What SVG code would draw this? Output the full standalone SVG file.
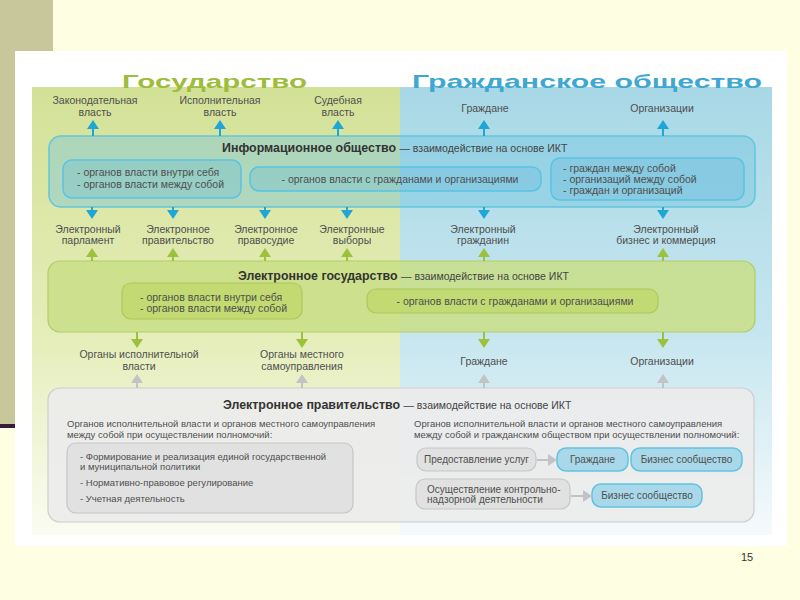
<svg xmlns="http://www.w3.org/2000/svg" width="800" height="600" viewBox="0 0 800 600">
<defs>
<linearGradient id="gGreen" x1="0" y1="0" x2="0" y2="1">
<stop offset="0" stop-color="#d3e197"/>
<stop offset="0.55" stop-color="#e5edb9"/>
<stop offset="1" stop-color="#fbfcf2"/>
</linearGradient>
<linearGradient id="gBlue" x1="0" y1="0" x2="0" y2="1">
<stop offset="0" stop-color="#a8d8e6"/>
<stop offset="0.55" stop-color="#c6e6ef"/>
<stop offset="1" stop-color="#f5fafc"/>
</linearGradient>
<marker id="mBlue" markerUnits="userSpaceOnUse" markerWidth="9" markerHeight="12" refX="0" refY="6" orient="auto"><path d="M0,0 L9,6 L0,12 z" fill="#1ea7d6"/></marker>
<marker id="mGreen" markerUnits="userSpaceOnUse" markerWidth="9" markerHeight="12" refX="0" refY="6" orient="auto"><path d="M0,0 L9,6 L0,12 z" fill="#9cc13c"/></marker>
<marker id="mGray" markerUnits="userSpaceOnUse" markerWidth="9" markerHeight="12" refX="0" refY="6" orient="auto"><path d="M0,0 L9,6 L0,12 z" fill="#c3c3c6"/></marker>
<style>
text{font-family:"Liberation Sans",Arial,sans-serif;fill:#4f4f4f}
.lbl{font-size:10.5px;text-anchor:middle}
.sm{font-size:10.5px}
.gs{font-size:9.5px}
.gb{font-size:10px}
.ttl{font-size:12.4px;font-weight:bold;fill:#333}
.sub{font-size:10.5px;fill:#444;font-weight:normal}
.info{fill:#72c4e0;fill-opacity:0.42;stroke:#62c6dc;stroke-width:1.5}
.infoIn{fill:#5cb8dc;fill-opacity:0.28;stroke:#58c4e2;stroke-width:1.5}
.es{fill:#c9de86;fill-opacity:0.85;stroke:#b3cd68;stroke-width:1.2}
.esIn{fill:#bfd86a;fill-opacity:0.8;stroke:#acc85a;stroke-width:1.2}
.eg{fill:#ececeb;fill-opacity:0.92;stroke:#cdcdcd;stroke-width:1.2}
.egIn{fill:#e1e1e1;stroke:#c6c6c6;stroke-width:1.2}
.bl{fill:#a9d8ea;stroke:#62c3de;stroke-width:1.5}
.cBlue{stroke:#1ea7d6;stroke-width:2;fill:none;marker-end:url(#mBlue)}
.cGreen{stroke:#9cc13c;stroke-width:2;fill:none;marker-end:url(#mGreen)}
.cGray{stroke:#c3c3c6;stroke-width:2;fill:none;marker-end:url(#mGray)}
</style>
</defs>

<rect x="0" y="0" width="800" height="600" fill="#fefee2"/>
<rect x="0" y="0" width="53" height="425" fill="#c8c79c"/>
<rect x="0" y="424" width="15" height="4" fill="#3b1a3c"/>
<rect x="15" y="51" width="772" height="495" fill="#ffffff"/>

<g id="panels">
<rect x="32" y="87" width="368" height="448" fill="url(#gGreen)"/>
<rect x="400" y="87" width="372" height="448" fill="url(#gBlue)"/>
<text x="122" y="88" font-size="18.5" font-weight="bold" style="fill:#9dbd3b" textLength="185" lengthAdjust="spacingAndGlyphs">Государство</text>
<text x="412" y="88" font-size="18.5" font-weight="bold" style="fill:#3ea8d2" textLength="350" lengthAdjust="spacingAndGlyphs">Гражданское общество</text>
</g>

<g id="top-labels">
<text class="lbl" x="95" y="104">Законодательная</text>
<text class="lbl" x="95" y="116">власть</text>
<text class="lbl" x="220" y="104">Исполнительная</text>
<text class="lbl" x="220" y="116">власть</text>
<text class="lbl" x="338" y="104">Судебная</text>
<text class="lbl" x="338" y="116">власть</text>
<text class="lbl" x="485" y="112">Граждане</text>
<text class="lbl" x="662" y="112">Организации</text>
</g>

<g id="info-society">
<rect class="info" x="49" y="136" width="706" height="71" rx="12"/>
<text class="ttl" x="222" y="152">Информационное общество <tspan class="sub">— взаимодействие на основе ИКТ</tspan></text>
<rect class="infoIn" x="63" y="160" width="178" height="38" rx="9"/>
<text class="sm" x="77" y="176">- органов власти внутри себя</text>
<text class="sm" x="77" y="187.5">- органов власти между собой</text>
<rect class="infoIn" x="250" y="167" width="291" height="24" rx="9"/>
<text class="sm" x="400" y="182.5" text-anchor="middle">- органов власти с гражданами и организациями</text>
<rect class="infoIn" x="551" y="158" width="193" height="42" rx="9"/>
<text class="sm" x="563" y="171.5">- граждан  между собой</text>
<text class="sm" x="563" y="182.5">- организаций между собой</text>
<text class="sm" x="563" y="193.5">- граждан  и организаций</text>
</g>

<g id="e-labels">
<text class="lbl" x="88" y="232.5">Электронный</text>
<text class="lbl" x="88" y="243.5">парламент</text>
<text class="lbl" x="178" y="232.5">Электронное</text>
<text class="lbl" x="178" y="243.5">правительство</text>
<text class="lbl" x="266" y="232.5">Электронное</text>
<text class="lbl" x="266" y="243.5">правосудие</text>
<text class="lbl" x="352" y="232.5">Электронные</text>
<text class="lbl" x="352" y="243.5">выборы</text>
<text class="lbl" x="483" y="232.5">Электронный</text>
<text class="lbl" x="483" y="243.5">гражданин</text>
<text class="lbl" x="666" y="232.5">Электронный</text>
<text class="lbl" x="666" y="243.5">бизнес и коммерция</text>
</g>

<g id="e-state">
<rect class="es" x="48" y="261" width="707" height="71" rx="12"/>
<text class="ttl" x="238" y="280">Электронное государство <tspan class="sub">— взаимодействие на основе ИКТ</tspan></text>
<rect class="esIn" x="122" y="283" width="180" height="36" rx="9"/>
<text class="sm" x="140" y="300.5">- органов власти внутри себя</text>
<text class="sm" x="140" y="311.5">- органов власти между собой</text>
<rect class="esIn" x="367" y="289" width="291" height="24" rx="9"/>
<text class="sm" x="515" y="305" text-anchor="middle">- органов власти с гражданами и организациями</text>
</g>

<g id="gov-labels">
<text class="lbl" x="139" y="357.5">Органы исполнительной</text>
<text class="lbl" x="139" y="369.5">власти</text>
<text class="lbl" x="302" y="357.5">Органы местного</text>
<text class="lbl" x="302" y="369.5">самоуправления</text>
<text class="lbl" x="484" y="364.5">Граждане</text>
<text class="lbl" x="662" y="364.5">Организации</text>
</g>

<g id="e-government">
<rect class="eg" x="48" y="388" width="706" height="134" rx="12"/>
<text class="ttl" x="223" y="409">Электронное правительство <tspan class="sub">— взаимодействие на основе ИКТ</tspan></text>
<text class="gs" x="67" y="427">Органов исполнительной власти и органов местного самоуправления</text>
<text class="gs" x="67" y="438">между собой при осуществлении полномочий:</text>
<rect class="egIn" x="67" y="443" width="286" height="70" rx="9"/>
<text class="gs" x="80" y="459.5">- Формирование и реализация единой государственной</text>
<text class="gs" x="80" y="470">и муниципальной политики</text>
<text class="gs" x="80" y="486">- Нормативно-правовое регулирование</text>
<text class="gs" x="80" y="502">- Учетная деятельность</text>
<text class="gs" x="414" y="427">Органов исполнительной власти и органов местного самоуправления</text>
<text class="gs" x="414" y="438">между собой и гражданским обществом при осуществлении полномочий:</text>
</g>

<g id="services">
<rect class="egIn" x="417" y="448" width="119" height="23" rx="9"/>
<text class="gb" x="476.5" y="463" text-anchor="middle">Предоставление услуг</text>
</g>
<g id="citizens-box">
<rect class="bl" x="557" y="448" width="71" height="23" rx="9"/>
<text class="gb" x="592.5" y="463" text-anchor="middle">Граждане</text>
</g>
<g id="business-box-1">
<rect class="bl" x="631" y="448" width="111" height="23" rx="9"/>
<text class="gb" x="686.5" y="463" text-anchor="middle">Бизнес сообщество</text>
</g>
<g id="control">
<rect class="egIn" x="416" y="479" width="154" height="30" rx="9"/>
<text class="gb" x="427" y="492.5">Осуществление контрольно-</text>
<text class="gb" x="427" y="503">надзорной деятельности</text>
</g>
<g id="business-box-2">
<rect class="bl" x="592" y="484" width="110" height="23" rx="9"/>
<text class="gb" x="647" y="499" text-anchor="middle">Бизнес сообщество</text>
</g>

<g id="connectors">
<line class="cBlue" x1="93" y1="136" x2="93" y2="129"/>
<line class="cBlue" x1="220" y1="136" x2="220" y2="129"/>
<line class="cBlue" x1="338" y1="136" x2="338" y2="129"/>
<line class="cBlue" x1="484" y1="136" x2="484" y2="129"/>
<line class="cBlue" x1="663" y1="136" x2="663" y2="129"/>
<line class="cBlue" x1="92" y1="207" x2="92" y2="210"/>
<line class="cBlue" x1="173" y1="207" x2="173" y2="210"/>
<line class="cBlue" x1="265" y1="207" x2="265" y2="210"/>
<line class="cBlue" x1="347" y1="207" x2="347" y2="210"/>
<line class="cBlue" x1="484" y1="207" x2="484" y2="210"/>
<line class="cBlue" x1="663" y1="207" x2="663" y2="210"/>
<line class="cGreen" x1="92" y1="261" x2="92" y2="257"/>
<line class="cGreen" x1="173" y1="261" x2="173" y2="257"/>
<line class="cGreen" x1="265" y1="261" x2="265" y2="257"/>
<line class="cGreen" x1="347" y1="261" x2="347" y2="257"/>
<line class="cGreen" x1="484" y1="261" x2="484" y2="257"/>
<line class="cGreen" x1="663" y1="261" x2="663" y2="257"/>
<line class="cGreen" x1="137" y1="332" x2="137" y2="339"/>
<line class="cGreen" x1="302" y1="332" x2="302" y2="339"/>
<line class="cGreen" x1="484" y1="332" x2="484" y2="339"/>
<line class="cGreen" x1="663" y1="332" x2="663" y2="339"/>
<line class="cGray" x1="137" y1="388" x2="137" y2="383"/>
<line class="cGray" x1="302" y1="388" x2="302" y2="383"/>
<line class="cGray" x1="484" y1="388" x2="484" y2="383"/>
<line class="cGray" x1="663" y1="388" x2="663" y2="383"/>
<line class="cGray" x1="537" y1="460" x2="548" y2="460"/>
<line class="cGray" x1="571" y1="496" x2="583" y2="496"/>
</g>

<text x="747" y="561" font-size="11" text-anchor="middle" style="fill:#333">15</text>
</svg>
